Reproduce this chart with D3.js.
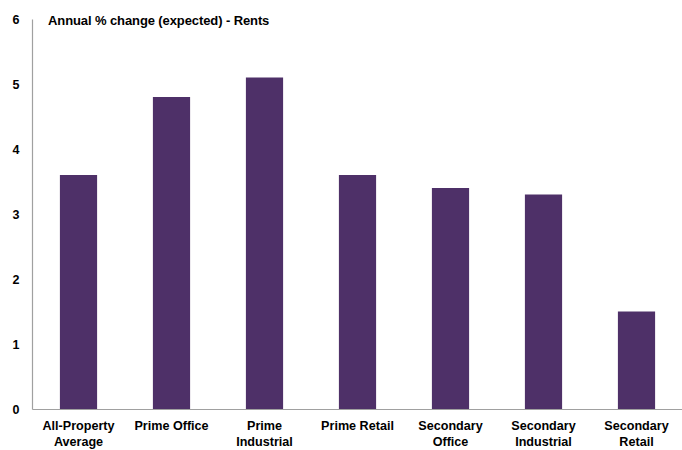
<!DOCTYPE html>
<html>
<head>
<meta charset="utf-8">
<script src="https://cdn.jsdelivr.net/npm/d3@7"></script>
<style>
  html, body { margin: 0; padding: 0; background: #fff; }
  svg { display: block; font-family: "Liberation Sans", Arial, sans-serif; }
</style>
</head>
<body>
<svg id="chart" width="682" height="450"></svg>
<script>
// Expected annual rental change by property segment
const categories = [
  ["All-Property", "Average"],
  ["Prime Office"],
  ["Prime", "Industrial"],
  ["Prime Retail"],
  ["Secondary", "Office"],
  ["Secondary", "Industrial"],
  ["Secondary", "Retail"]
];
const rentChange = [3.6, 4.8, 5.1, 3.6, 3.4, 3.3, 1.5];
const yTicks = [0, 1, 2, 3, 4, 5, 6];
const title = "Annual % change (expected) - Rents";

const svg = d3.select("#chart");
const plotLeft = 32, plotRight = 683, plotTop = 19, plotBottom = 409;

const x = d3.scaleBand()
  .domain(d3.range(categories.length))
  .range([plotLeft, plotRight])
  .paddingInner(0.6)
  .paddingOuter(0.3);

const y = d3.scaleLinear().domain([0, 6]).range([plotBottom, plotTop]);

// bars
svg.append("g")
  .selectAll("rect")
  .data(rentChange)
  .join("rect")
  .attr("x", (d, i) => x(i))
  .attr("y", d => y(d))
  .attr("width", x.bandwidth())
  .attr("height", d => y(0) - y(d))
  .attr("fill", "#4e3068");

// y axis
const yAxis = svg.append("g")
  .attr("transform", `translate(${plotLeft},0)`)
  .call(d3.axisLeft(y).tickValues(yTicks).tickSize(0).tickPadding(0).tickFormat(d3.format("d")));
yAxis.select(".domain").attr("stroke", "#a0a0a0").attr("stroke-width", 1.2);
yAxis.selectAll("text")
  .attr("x", -16)
  .attr("text-anchor", "middle")
  .attr("font-size", 12.5)
  .attr("font-weight", "bold")
  .attr("fill", "#000")
  .attr("font-family", "Liberation Sans, Arial, sans-serif");

// x axis
const xAxis = svg.append("g")
  .attr("transform", `translate(0,${plotBottom})`)
  .call(d3.axisBottom(x).tickSize(0).tickFormat(""));
xAxis.select(".domain").attr("stroke", "#a0a0a0").attr("stroke-width", 1.2);
xAxis.selectAll(".tick").each(function(d) {
  const t = d3.select(this).select("text")
    .attr("y", 0)
    .attr("dy", null)
    .attr("font-size", 12.6)
    .attr("font-weight", "bold")
    .attr("fill", "#000")
    .attr("font-family", "Liberation Sans, Arial, sans-serif");
  categories[d].forEach((line, k) => {
    t.append("tspan")
      .attr("x", 0)
      .attr("y", 21 + k * 16)
      .text(line);
  });
});

// title
svg.append("text")
  .attr("x", 48)
  .attr("y", 25)
  .attr("font-size", 13)
  .attr("font-weight", "bold")
  .attr("letter-spacing", -0.1)
  .attr("fill", "#000")
  .text(title);
</script>
</body>
</html>
